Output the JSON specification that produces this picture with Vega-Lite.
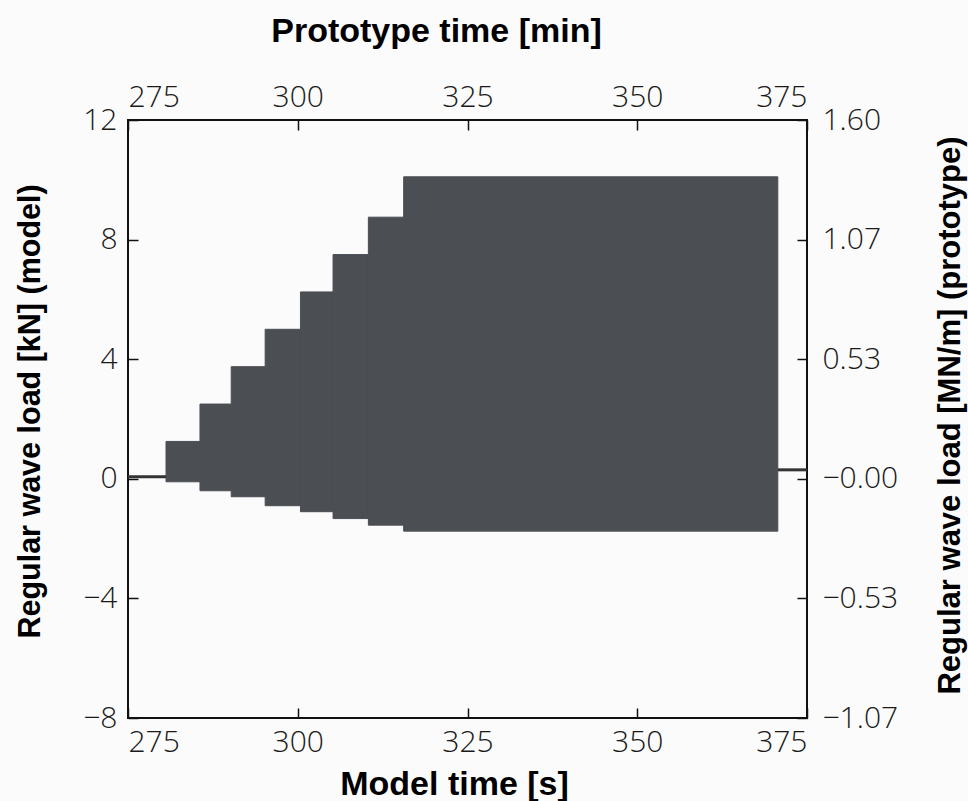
{
  "$schema": "https://vega.github.io/schema/vega-lite/v6.json",
  "autosize": "none",
  "width": 679,
  "height": 598,
  "padding": {"left": 128, "top": 120, "right": 161, "bottom": 83},
  "background": "#fbfbfb",
  "config": {
    "view": {"stroke": "#111111", "strokeWidth": 2},
    "axis": {
      "domain": false,
      "grid": false,
      "tickColor": "#111111",
      "tickWidth": 1.5,
      "tickSize": -10,
      "labelFont": "Open Sans",
      "labelFontWeight": 300,
      "labelFontSize": 30,
      "labelColor": "#1a1a1a",
      "titleFont": "Liberation Sans",
      "titleFontWeight": "bold",
      "titleColor": "#000000"
    }
  },
  "datasets": {
    "steps": [
      {"t0": 280.6, "t1": 285.6, "lo": -0.1, "hi": 1.25},
      {"t0": 285.6, "t1": 290.2, "lo": -0.4, "hi": 2.5},
      {"t0": 290.2, "t1": 295.2, "lo": -0.6, "hi": 3.75},
      {"t0": 295.2, "t1": 300.4, "lo": -0.9, "hi": 5.0},
      {"t0": 300.4, "t1": 305.2, "lo": -1.1, "hi": 6.25},
      {"t0": 305.2, "t1": 310.4, "lo": -1.33, "hi": 7.5},
      {"t0": 310.4, "t1": 315.6, "lo": -1.55, "hi": 8.75},
      {"t0": 315.6, "t1": 370.7, "lo": -1.75, "hi": 10.1}
    ],
    "baseline": [
      {"t0": 275.0, "t1": 280.6, "load": 0.07},
      {"t0": 370.7, "t1": 375.0, "load": 0.3}
    ]
  },
  "layer": [
    {
      "data": {"name": "steps"},
      "mark": {"type": "rect", "color": "#4b4e53", "stroke": "#4b4e53", "strokeWidth": 1},
      "encoding": {
        "x": {
          "field": "t0", "type": "quantitative",
          "scale": {"domain": [275, 375], "nice": false, "zero": false},
          "axis": {
            "orient": "bottom", "values": [275, 300, 325, 350, 375],
            "labelPadding": 19,
            "title": "Model time [s]", "titleFontSize": 34,
            "titleX": 326, "titleY": 66, "titleBaseline": "middle"
          }
        },
        "x2": {"field": "t1"},
        "y": {
          "field": "lo", "type": "quantitative",
          "scale": {"domain": [-8, 12], "nice": false, "zero": false},
          "axis": {
            "orient": "left", "values": [-8, -4, 0, 4, 8, 12],
            "labelPadding": 21,
            "title": "Regular wave load [kN] (model)", "titleFontSize": 30.5,
            "titleAngle": -90, "titleX": -98, "titleY": 291, "titleBaseline": "middle"
          }
        },
        "y2": {"field": "hi"}
      }
    },
    {
      "data": {"name": "baseline"},
      "mark": {"type": "rule", "color": "#333333", "strokeWidth": 3},
      "encoding": {
        "x": {
          "field": "t0", "type": "quantitative",
          "scale": {"domain": [275, 375], "nice": false, "zero": false},
          "axis": {
            "orient": "top", "values": [275, 300, 325, 350, 375],
            "labelPadding": 18,
            "title": "Prototype time [min]", "titleFontSize": 34,
            "titleX": 308, "titleY": -89, "titleBaseline": "middle"
          }
        },
        "x2": {"field": "t1"},
        "y": {
          "field": "load", "type": "quantitative",
          "scale": {"domain": [-8, 12], "nice": false, "zero": false},
          "axis": {
            "orient": "right", "values": [-8, -4, 0, 4, 8, 12],
            "labelPadding": 25,
            "labelExpr": "datum.value == 0 ? '−0.00' : format(datum.value * 0.133333, '.2f')",
            "title": "Regular wave load [MN/m] (prototype)", "titleFontSize": 31,
            "titleAngle": -90, "titleX": 143, "titleY": 295, "titleBaseline": "middle"
          }
        }
      }
    }
  ],
  "resolve": {"scale": {"x": "independent", "y": "independent"}}
}
